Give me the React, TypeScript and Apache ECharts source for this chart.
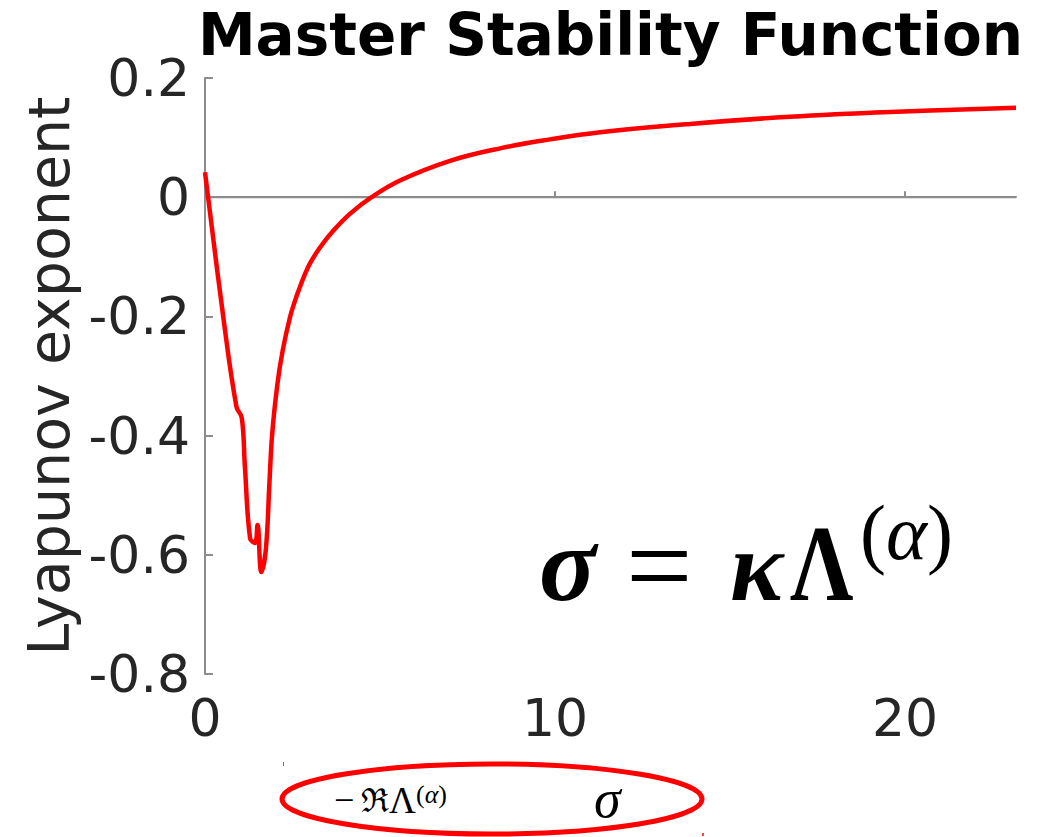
import React, { useEffect, useRef } from "react";
import * as echarts from "echarts";

// sigma (x) and the corresponding largest Lyapunov exponent (y)
const sigma = [
  0, 0.52, 0.9, 1.05, 1.14, 1.29, 1.43, 1.5, 1.61, 1.74, 1.84, 1.92, 2.07, 2.22,
  2.43, 2.57, 2.71, 2.85, 3.0, 3.29, 3.67, 4.14, 4.76, 5.57, 7.0, 8.43, 9.86,
  11.29, 13.86, 16.71, 19.57, 23.17,
];
const lyapunov = [
  0.042, -0.2, -0.352, -0.37, -0.452, -0.573, -0.58, -0.55, -0.629, -0.59,
  -0.48, -0.397, -0.313, -0.257, -0.201, -0.174, -0.151, -0.13, -0.111, -0.084,
  -0.056, -0.028, 0, 0.028, 0.061, 0.082, 0.097, 0.109, 0.123, 0.135, 0.143,
  0.15,
];

const xTicks = [0, 10, 20];
const yTicks = [-0.8, -0.6, -0.4, -0.2, 0, 0.2];

const titleText = "Master Stability Function";
const yName = "Lyapunov exponent";

const SANS = "DejaVu Sans";
const SERIF = "Liberation Serif";

// plain text element centred vertically on y
function label(
  text: string,
  x: number,
  y: number,
  font: string,
  extra: Record<string, unknown> = {}
) {
  return {
    type: "text",
    x,
    y,
    ...extra,
    style: {
      text,
      fill: "#000",
      font,
      align: "left",
      verticalAlign: "middle",
    },
  };
}

export default function App() {
  const ref = useRef<HTMLDivElement>(null);

  useEffect(() => {
    document.body.style.margin = "0";
    const chart = echarts.init(ref.current!, undefined, { renderer: "svg" });

    const xMin = sigma[0];
    const xMax = sigma[sigma.length - 1];
    const curve = sigma.map((s, i) => [s, lyapunov[i]]);
    const zero = [
      [xMin, 0],
      [xMax, 0],
    ];

    const gridLeft = 205;
    const gridRight = 27;
    const gridTop = 78;
    const gridBottom = 163;
    const plotCenter = gridLeft + (1043 - gridLeft - gridRight) / 2;

    chart.setOption({
      animation: false,
      backgroundColor: "#ffffff",
      grid: {
        left: gridLeft,
        right: gridRight,
        top: gridTop,
        bottom: gridBottom,
        containLabel: false,
      },
      xAxis: {
        type: "value",
        min: xMin,
        max: xMax,
        interval: 10,
        axisLine: { show: true, lineStyle: { color: "#8c8c8c", width: 2 } },
        axisTick: {
          show: true,
          inside: true,
          length: 6,
          customValues: xTicks,
          lineStyle: { color: "#8c8c8c", width: 2 },
        },
        axisLabel: {
          customValues: xTicks,
          color: "#262626",
          fontFamily: SANS,
          fontSize: 52,
          margin: 18,
        },
        splitLine: { show: false },
      },
      yAxis: {
        type: "value",
        min: yTicks[0],
        max: yTicks[yTicks.length - 1],
        interval: 0.2,
        name: yName,
        nameLocation: "middle",
        nameGap: 124,
        nameRotate: 90,
        nameTextStyle: {
          color: "#262626",
          fontFamily: SANS,
          fontSize: 57,
        },
        axisLine: { show: true, lineStyle: { color: "#8c8c8c", width: 2 } },
        axisTick: {
          show: true,
          inside: true,
          length: 8,
          customValues: yTicks,
          lineStyle: { color: "#8c8c8c", width: 2 },
        },
        axisLabel: {
          customValues: yTicks,
          color: "#262626",
          fontFamily: SANS,
          fontSize: 52,
          margin: 15,
          formatter: (v: number) => String(Math.round(v * 10) / 10),
        },
        splitLine: { show: false },
      },
      series: [
        {
          type: "line",
          data: zero,
          symbol: "none",
          silent: true,
          lineStyle: { color: "#8c8c8c", width: 2 },
          z: 1,
        },
        {
          type: "line",
          data: curve,
          symbol: "none",
          smooth: 0.4,
          lineStyle: { color: "#ff0000", width: 4.5 },
          z: 3,
        },
      ],
      graphic: [
        {
          type: "text",
          x: plotCenter,
          y: 35,
          style: {
            text: titleText,
            fill: "#000000",
            font: `bold 58px "${SANS}"`,
            align: "center",
            verticalAlign: "middle",
          },
        },
        // sigma = kappa Lambda^(alpha)
        label("σ", 539, 564, `italic bold 106px "${SERIF}"`),
        label("=", 626, 566, `118px "${SERIF}"`),
        label("κ", 730, 566, `italic bold 100px "${SERIF}"`),
        label("Λ", 790, 563, `bold 109px "${SERIF}"`, { scaleX: 0.81 }),
        {
          type: "text",
          x: 860,
          y: 532,
          style: {
            text: "{p|(}{a|α}{p|)}",
            fill: "#000",
            align: "left",
            verticalAlign: "middle",
            rich: {
              p: { font: `78px "${SERIF}"`, fill: "#000" },
              a: { font: `italic 78px "${SERIF}"`, fill: "#000" },
            },
          },
        },
        // bottom annotation
        {
          type: "ellipse",
          shape: { cx: 492, cy: 799, rx: 210, ry: 35 },
          style: { fill: "none", stroke: "#ff0000", lineWidth: 5 },
        },
        label("−", 334, 800, `36px "${SERIF}"`),
        label("ℜ", 361, 800, `33px "DejaVu Serif"`),
        label("Λ", 389, 800, `37px "${SERIF}"`),
        {
          type: "text",
          x: 416,
          y: 794,
          style: {
            text: "{p|(}{a|α}{p|)}",
            fill: "#000",
            align: "left",
            verticalAlign: "middle",
            rich: {
              p: { font: `26px "${SERIF}"`, fill: "#000" },
              a: { font: `italic 26px "${SERIF}"`, fill: "#000" },
            },
          },
        },
        label("σ", 594, 799, `italic 54px "${SERIF}"`),
        {
          type: "rect",
          shape: { x: 283, y: 762, width: 1, height: 4 },
          style: { fill: "#ff4040" },
        },
        {
          type: "rect",
          shape: { x: 702, y: 833, width: 2, height: 3 },
          style: { fill: "#ff4040" },
        },
      ],
    });

    return () => chart.dispose();
  }, []);

  return <div ref={ref} style={{ width: 1043, height: 837 }} />;
}
